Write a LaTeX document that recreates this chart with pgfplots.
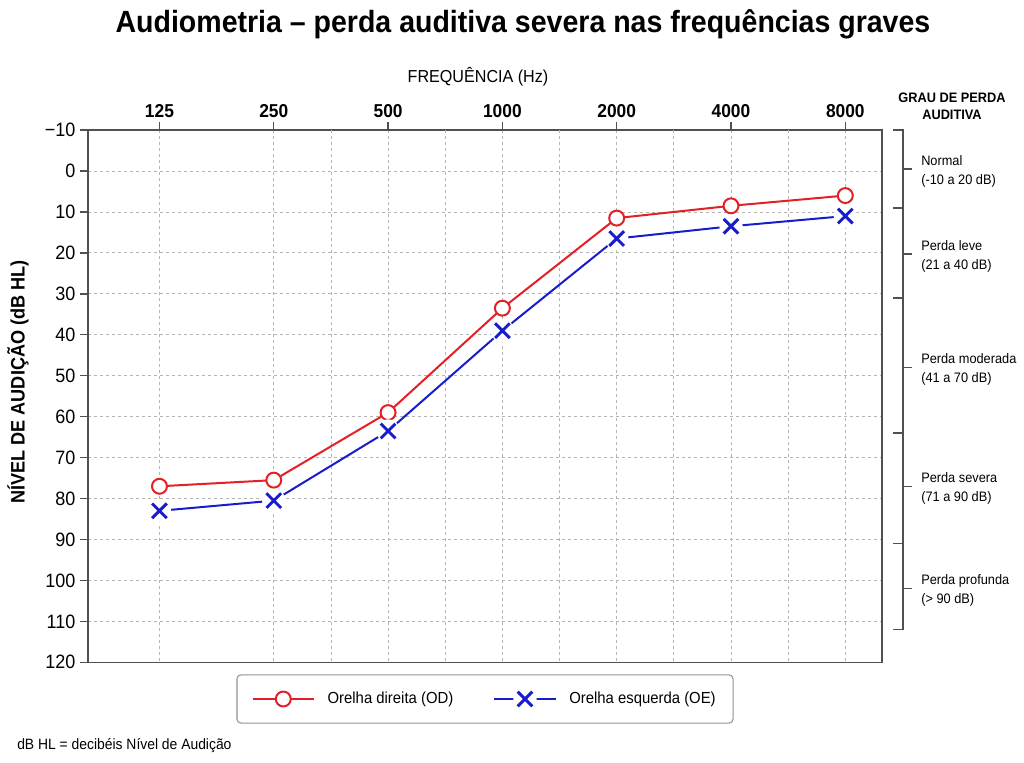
\documentclass[border=0pt]{standalone}
\usepackage{pgfplots}
\pgfplotsset{compat=1.18}
\usepackage{pgfplotstable}
\usepackage{fontspec}
\setmainfont{Liberation Sans}[FakeStretch=0.93]

\definecolor{odred}{RGB}{226,32,38}
\definecolor{oeblue}{RGB}{24,28,204}
\definecolor{axisgray}{RGB}{80,80,80}
\definecolor{gridgray}{RGB}{180,180,180}

% cross mark that clears a small white disc around itself
\pgfdeclareplotmark{xhalo}{%
  \begin{pgfscope}
    \pgfsetfillcolor{white}
    \pgfpathcircle{\pgfpointorigin}{1.6\pgfplotmarksize}
    \pgfusepath{fill}
  \end{pgfscope}
  \pgfpathmoveto{\pgfqpoint{-\pgfplotmarksize}{-\pgfplotmarksize}}
  \pgfpathlineto{\pgfqpoint{\pgfplotmarksize}{\pgfplotmarksize}}
  \pgfpathmoveto{\pgfqpoint{-\pgfplotmarksize}{\pgfplotmarksize}}
  \pgfpathlineto{\pgfqpoint{\pgfplotmarksize}{-\pgfplotmarksize}}
  \pgfusepathqstroke
}

% hearing thresholds in dB HL per frequency (Hz)
\pgfplotstableread{
freq OD OE
125 77 83
250 75.5 80.5
500 59 63.5
1000 33.5 39
2000 11.5 16.5
4000 8.5 13.5
8000 6 11
}\audiograma

\begin{document}
\begin{tikzpicture}[x=0.75pt,y=0.75pt]
\path[use as bounding box] (0,0) rectangle (1024,763);

\node[anchor=base, font=\bfseries\fontsize{23}{27}\selectfont] at (523,730)
  {Audiometria – perda auditiva severa nas frequências graves};
\node[anchor=base, font=\fontsize{13}{15}\selectfont] at (478,680) {FREQUÊNCIA (Hz)};
\node[anchor=base, font=\bfseries\fontsize{10.3}{12}\selectfont] at (952,660.3) {GRAU DE PERDA};
\node[anchor=base, font=\bfseries\fontsize{10.3}{12}\selectfont] at (952,643) {AUDITIVA};
\node[rotate=90, font=\bfseries\fontsize{14.6}{16}\selectfont] at (18,381) {NÍVEL DE AUDIÇÃO (dB HL)};
\node[anchor=base west, inner sep=0pt, font=\fontsize{11.2}{13}\selectfont] at (17,13) {dB HL = decibéis Nível de Audição};

\begin{axis}[
  at={(66pt,75.5pt)}, anchor=south west,
  scale only axis, width=595.5pt, height=399.2pt,
  xmode=log, log basis x=2, xmin=81.04, xmax=9994.6,
  ymin=-10, ymax=120, y dir=reverse,
  xtick={125,250,500,1000,2000,4000,8000},
  xticklabels={125,250,500,1000,2000,4000,8000},
  extra x ticks={353.55,707.11,1414.2,2828.4,5656.9},
  extra x tick labels={},
  extra x tick style={grid=major, major tick length=0pt},
  ytick={-10,0,10,20,30,40,50,60,70,80,90,100,110,120},
  yticklabels={−10,0,10,20,30,40,50,60,70,80,90,100,110,120},
  xtick pos=right, xticklabel pos=right,
  ytick pos=left,
  tick align=outside,
  major tick length=6pt,
  xmajorgrids, ymajorgrids,
  major grid style={gridgray, line width=0.6pt, dash pattern=on 2.5pt off 2pt},
  axis line style={axisgray, line width=1.1pt},
  every tick/.style={axisgray, line width=1pt},
  xticklabel style={font=\bfseries\fontsize{14}{16}\selectfont},
  yticklabel style={font=\fontsize{14.5}{16}\selectfont},
  /pgf/number format/assume math mode=true,
  clip=false,
  legend columns=2,
  legend cell align=left,
  legend image code/.code={\draw[mark repeat=2,mark phase=2]
    plot coordinates {(0pt,0pt) (23pt,0pt) (46pt,0pt)};},
  legend style={at={(axis description cs:0.5,0)}, anchor=north, yshift=-9pt,
    draw=gray!85, rounded corners=3pt, line width=0.8pt,
    font=\fontsize{12}{14}\selectfont, inner xsep=11pt, inner ysep=9.3pt,
    /tikz/every odd column/.append style={column sep=7.5pt},
    /tikz/every even column/.append style={column sep=28pt}},
]

\addplot[odred, line width=1.5pt, mark=*, mark size=5.6pt,
  mark options={fill=white, draw=odred, line width=1.5pt}]
  table[x=freq, y=OD] {\audiograma};
\addlegendentry{Orelha direita (OD)}

\addplot[oeblue, line width=1.5pt, mark=xhalo, mark size=5.5pt,
  mark options={line width=2.2pt}]
  table[x=freq, y=OE] {\audiograma};
\addlegendentry{Orelha esquerda (OE)}

% bracket with the hearing-loss grades
\draw[axisgray, line width=1pt]
  (axis cs:10684,-10) -- (axis cs:11351,-10) -- (axis cs:11351,112) -- (axis cs:10684,112);
\draw[axisgray, line width=1pt] (axis cs:10684,9) -- (axis cs:11351,9);
\draw[axisgray, line width=1pt] (axis cs:10684,31) -- (axis cs:11351,31);
\draw[axisgray, line width=1pt] (axis cs:10684,64) -- (axis cs:11351,64);
\draw[axisgray, line width=1pt] (axis cs:10684,91) -- (axis cs:11351,91);
\draw[axisgray, line width=1pt] (axis cs:11351,-0.5) -- (axis cs:11988,-0.5);
\draw[axisgray, line width=1pt] (axis cs:11351,20.3) -- (axis cs:11988,20.3);
\draw[axisgray, line width=1pt] (axis cs:11351,48) -- (axis cs:11988,48);
\draw[axisgray, line width=1pt] (axis cs:11351,77) -- (axis cs:11988,77);
\draw[axisgray, line width=1pt] (axis cs:11351,102) -- (axis cs:11988,102);

\begin{scope}[every node/.style={anchor=west, align=left, inner sep=0pt,
    font=\fontsize{10.3}{14.2}\selectfont}]
\node at (axis cs:12660,0) {Normal\\(-10 a 20 dB)};
\node at (axis cs:12660,20.8) {Perda leve\\(21 a 40 dB)};
\node at (axis cs:12660,48.5) {Perda moderada\\(41 a 70 dB)};
\node at (axis cs:12660,77.5) {Perda severa\\(71 a 90 dB)};
\node at (axis cs:12660,102.5) {Perda profunda\\(> 90 dB)};
\end{scope}
\end{axis}
\end{tikzpicture}
\end{document}
